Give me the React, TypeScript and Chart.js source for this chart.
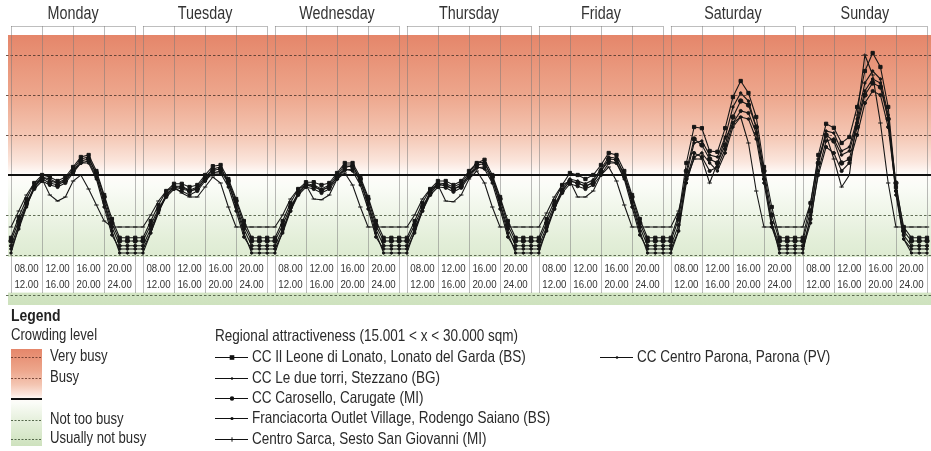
import React, { useEffect, useRef } from "react";
import { Chart, registerables } from "chart.js";

Chart.register(...registerables);

// ---- categories / labels ----
const days = ["Monday", "Tuesday", "Wednesday", "Thursday", "Friday", "Saturday", "Sunday"];
const slotStart = ["08.00", "12.00", "16.00", "20.00"];
const slotEnd = ["12.00", "16.00", "20.00", "24.00"];
const hours = [8, 9, 10, 11, 12, 13, 14, 15, 16, 17, 18, 19, 20, 21, 22, 23, 24];
// crowding-level reference lines (index units)
const levelLines = [0, 1, 2, 4, 5, 6];
const thresholdLevel = 3;

const crowdLegend = ["Very busy", "Busy", "Not too busy", "Usually not busy"];
const legendTitle = "Regional attractiveness (15.001 < x < 30.000 sqm)";

// ---- series (rows = Monday..Sunday, columns = hours 8..24) ----
const leone = [
  [1.43, 1.95, 2.4, 2.8, 3.0, 2.95, 2.85, 2.95, 3.2, 3.45, 3.5, 3.1, 2.5, 1.9, 1.43, 1.43, 1.43],
  [1.43, 1.85, 2.25, 2.6, 2.78, 2.78, 2.7, 2.75, 3.0, 3.22, 3.25, 2.9, 2.4, 1.85, 1.43, 1.43, 1.43],
  [1.43, 1.85, 2.3, 2.65, 2.82, 2.82, 2.75, 2.8, 3.05, 3.3, 3.3, 2.95, 2.45, 1.85, 1.43, 1.43, 1.43],
  [1.43, 1.85, 2.3, 2.65, 2.85, 2.85, 2.75, 2.85, 3.1, 3.3, 3.38, 3.0, 2.45, 1.85, 1.43, 1.43, 1.43],
  [1.43, 1.9, 2.35, 2.75, 3.05, 3.0, 2.9, 3.0, 3.25, 3.55, 3.5, 3.1, 2.5, 1.9, 1.43, 1.43, 1.43],
  [1.43, 2.0, 3.3, 4.2, 4.17, 3.6, 3.58, 4.17, 4.95, 5.35, 5.05, 4.45, 3.2, 2.2, 1.43, 1.43, 1.43],
  [1.43, 2.3, 3.5, 4.28, 4.18, 3.8, 3.95, 4.7, 5.6, 6.05, 5.7, 4.7, 2.7, 1.7, 1.43, 1.43, 1.43],
];
const torri = [
  [1.05, 1.7, 2.25, 2.7, 2.95, 2.9, 2.8, 2.9, 3.15, 3.4, 3.45, 3.0, 2.3, 1.6, 1.05, 1.05, 1.05],
  [1.05, 1.55, 2.1, 2.5, 2.72, 2.72, 2.62, 2.7, 2.95, 3.15, 3.2, 2.8, 2.2, 1.55, 1.05, 1.05, 1.05],
  [1.05, 1.6, 2.15, 2.55, 2.78, 2.75, 2.65, 2.75, 3.0, 3.25, 3.25, 2.85, 2.25, 1.55, 1.05, 1.05, 1.05],
  [1.05, 1.6, 2.15, 2.6, 2.8, 2.78, 2.7, 2.8, 3.05, 3.3, 3.32, 2.9, 2.25, 1.55, 1.05, 1.05, 1.05],
  [1.05, 1.65, 2.2, 2.65, 2.9, 2.85, 2.78, 2.88, 3.15, 3.45, 3.42, 3.0, 2.3, 1.6, 1.05, 1.05, 1.05],
  [1.05, 1.6, 3.0, 3.8, 3.85, 3.5, 3.45, 3.95, 4.7, 5.05, 4.85, 4.2, 3.0, 1.8, 1.05, 1.05, 1.05],
  [1.05, 2.0, 3.3, 4.1, 4.05, 3.6, 3.7, 4.4, 5.3, 5.6, 5.4, 4.5, 2.6, 1.4, 1.05, 1.05, 1.05],
];
const carosello = [
  [1.35, 1.85, 2.3, 2.7, 2.9, 2.8, 2.75, 2.85, 3.1, 3.35, 3.4, 3.05, 2.45, 1.8, 1.35, 1.35, 1.35],
  [1.35, 1.75, 2.15, 2.5, 2.7, 2.7, 2.6, 2.65, 2.9, 3.12, 3.15, 2.85, 2.35, 1.75, 1.35, 1.35, 1.35],
  [1.35, 1.75, 2.2, 2.55, 2.75, 2.72, 2.62, 2.7, 2.95, 3.2, 3.22, 2.9, 2.4, 1.75, 1.35, 1.35, 1.35],
  [1.35, 1.75, 2.2, 2.55, 2.75, 2.75, 2.65, 2.72, 3.0, 3.25, 3.28, 2.95, 2.4, 1.75, 1.35, 1.35, 1.35],
  [1.35, 1.8, 2.25, 2.6, 2.85, 2.8, 2.72, 2.8, 3.1, 3.4, 3.38, 3.0, 2.45, 1.8, 1.35, 1.35, 1.35],
  [1.35, 1.9, 3.1, 3.9, 3.75, 3.4, 3.3, 3.75, 4.45, 4.85, 4.75, 4.2, 3.1, 2.0, 1.35, 1.35, 1.35],
  [1.35, 2.1, 3.3, 4.0, 3.85, 3.3, 3.4, 4.2, 5.0, 5.3, 5.2, 4.4, 2.8, 1.6, 1.35, 1.35, 1.35],
];
const franciacorta = [
  [1.23, 1.75, 2.25, 2.65, 2.85, 2.75, 2.7, 2.8, 3.05, 3.3, 3.35, 2.95, 2.35, 1.7, 1.23, 1.23, 1.23],
  [1.23, 1.65, 2.1, 2.45, 2.65, 2.6, 2.5, 2.6, 2.85, 3.05, 3.1, 2.8, 2.25, 1.65, 1.23, 1.23, 1.23],
  [1.23, 1.65, 2.1, 2.5, 2.7, 2.65, 2.55, 2.65, 2.9, 3.12, 3.15, 2.85, 2.3, 1.65, 1.23, 1.23, 1.23],
  [1.23, 1.65, 2.1, 2.5, 2.7, 2.68, 2.58, 2.68, 2.95, 3.18, 3.2, 2.9, 2.3, 1.65, 1.23, 1.23, 1.23],
  [1.23, 1.7, 2.15, 2.55, 2.78, 2.72, 2.65, 2.75, 3.0, 3.3, 3.3, 2.95, 2.35, 1.7, 1.23, 1.23, 1.23],
  [1.23, 1.75, 2.9, 3.55, 3.45, 3.1, 3.2, 3.65, 4.3, 4.6, 4.55, 4.05, 2.9, 1.8, 1.23, 1.23, 1.23],
  [1.23, 1.9, 3.0, 3.7, 3.55, 3.1, 3.3, 4.0, 4.8, 5.1, 5.0, 4.2, 2.6, 1.5, 1.23, 1.23, 1.23],
];
const sarca = [
  [1.7, 2.1, 2.5, 2.8, 2.9, 2.5, 2.35, 2.45, 2.85, 3.0, 2.65, 2.25, 1.85, 1.7, 1.7, 1.7, 1.7],
  [1.7, 2.0, 2.35, 2.6, 2.7, 2.55, 2.45, 2.45, 2.7, 2.95, 2.8, 2.2, 1.7, 1.7, 1.7, 1.7, 1.7],
  [1.7, 2.0, 2.4, 2.65, 2.75, 2.4, 2.38, 2.5, 2.9, 3.05, 2.75, 2.2, 1.7, 1.7, 1.7, 1.7, 1.7],
  [1.7, 2.0, 2.4, 2.65, 2.75, 2.35, 2.33, 2.5, 2.9, 3.1, 2.8, 2.2, 1.7, 1.7, 1.7, 1.7, 1.7],
  [1.7, 2.05, 2.45, 2.75, 2.85, 2.45, 2.45, 2.6, 3.0, 3.2, 2.85, 2.25, 1.7, 1.7, 1.7, 1.7, 1.7],
  [1.7, 2.1, 2.9, 3.4, 3.4, 2.8, 3.3, 3.9, 4.3, 4.45, 3.8, 2.6, 1.7, 1.7, 1.7, 1.7, 1.7],
  [1.7, 2.3, 3.4, 4.0, 3.4, 2.7, 3.0, 4.5, 6.0, 5.5, 4.3, 2.8, 1.7, 1.7, 1.7, 1.7, 1.7],
];
const parona = [
  [1.15, 1.65, 2.2, 2.7, 2.95, 2.85, 2.8, 2.85, 3.1, 3.3, 3.3, 2.9, 2.2, 1.5, 1.15, 1.15, 1.15],
  [1.15, 1.55, 2.05, 2.5, 2.7, 2.65, 2.6, 2.65, 2.9, 3.05, 3.05, 2.7, 2.1, 1.45, 1.15, 1.15, 1.15],
  [1.15, 1.55, 2.1, 2.55, 2.75, 2.7, 2.62, 2.7, 2.95, 3.15, 3.1, 2.75, 2.15, 1.45, 1.15, 1.15, 1.15],
  [1.15, 1.55, 2.1, 2.55, 2.78, 2.72, 2.65, 2.75, 3.0, 3.2, 3.15, 2.8, 2.15, 1.45, 1.15, 1.15, 1.15],
  [1.15, 1.6, 2.15, 2.6, 2.85, 2.8, 2.72, 2.82, 3.1, 3.35, 3.3, 2.9, 2.2, 1.5, 1.15, 1.15, 1.15],
  [1.15, 1.6, 2.8, 3.45, 3.55, 3.3, 3.1, 3.55, 4.2, 4.45, 4.4, 3.9, 2.8, 1.7, 1.15, 1.15, 1.15],
  [1.15, 1.8, 3.1, 3.85, 3.9, 3.5, 3.6, 4.3, 5.1, 5.4, 5.3, 4.4, 2.5, 1.4, 1.15, 1.15, 1.15],
];

const seriesNames = [
  "CC Il Leone di Lonato, Lonato del Garda (BS)",
  "CC Le due torri, Stezzano (BG)",
  "CC Carosello, Carugate (MI)",
  "Franciacorta Outlet Village, Rodengo Saiano (BS)",
  "Centro Sarca, Sesto San Giovanni (MI)",
  "CC Centro Parona, Parona (PV)",
];
const seriesValues = [leone, torri, carosello, franciacorta, sarca, parona];
const seriesMarkers = [
  { style: "rect", r: 2.3 },
  { style: "circle", r: 1.2 },
  { style: "circle", r: 2.2 },
  { style: "circle", r: 1.6 },
  { style: "line", r: 2.2 },
  { style: "circle", r: 1.3 },
];

const DAY_SPAN = 17; // 16 opening hours + 1 unit gap
const FONT = '"Liberation Sans", Arial, sans-serif';
const NARROW = 0.82;

function toPoints(rows: number[][]) {
  const pts: { x: number; y: number }[] = [];
  rows.forEach((row, d) => {
    row.forEach((v, i) => pts.push({ x: d * DAY_SPAN + (hours[i] - 8), y: v }));
  });
  return pts;
}

function nText(ctx: CanvasRenderingContext2D, text: string, x: number, y: number, size: number, align: string, bold = false, color = "#2a2a2a") {
  ctx.save();
  ctx.font = `${bold ? "bold " : ""}${size}px ${FONT}`;
  ctx.textBaseline = "middle";
  ctx.textAlign = "left";
  ctx.fillStyle = color;
  const w = ctx.measureText(text).width * NARROW;
  const sx = align === "center" ? x - w / 2 : x;
  ctx.translate(sx, y);
  ctx.scale(NARROW, 1);
  ctx.fillText(text, 0, 0);
  ctx.restore();
}

function addStops(g: CanvasGradient) {
  g.addColorStop(0, "rgb(229,134,106)");
  g.addColorStop(0.22, "rgb(237,166,140)");
  g.addColorStop(0.37, "rgb(244,198,179)");
  g.addColorStop(0.47, "rgb(251,230,221)");
  g.addColorStop(0.515, "rgb(255,252,250)");
  g.addColorStop(0.56, "rgb(250,252,247)");
  g.addColorStop(0.75, "rgb(228,239,218)");
  g.addColorStop(1, "rgb(206,226,190)");
}

function drawMarker(ctx: CanvasRenderingContext2D, style: string, r: number, x: number, y: number) {
  ctx.save();
  ctx.fillStyle = "#111";
  ctx.strokeStyle = "#111";
  ctx.lineWidth = 1;
  if (style === "rect") {
    ctx.fillRect(x - r, y - r, 2 * r, 2 * r);
  } else if (style === "line") {
    ctx.beginPath();
    ctx.moveTo(x, y - r);
    ctx.lineTo(x, y + r);
    ctx.stroke();
  } else {
    ctx.beginPath();
    ctx.arc(x, y, r, 0, Math.PI * 2);
    ctx.fill();
  }
  ctx.restore();
}

const decorPlugin = {
  id: "decor",
  beforeDraw(chart: any) {
    const { ctx, chartArea: ca, scales } = chart;
    const xs = scales.x;
    const ys = scales.y;
    ctx.save();
    // crowding gradient
    const g = ctx.createLinearGradient(0, ca.top, 0, ca.bottom);
    addStops(g);
    ctx.fillStyle = g;
    ctx.fillRect(ca.left, ca.top, ca.right - ca.left, ca.bottom - ca.top);
    // white label band
    const bt = ys.getPixelForValue(0.95);
    const bb = ys.getPixelForValue(0.06);
    ctx.fillStyle = "#ffffff";
    ctx.fillRect(ca.left, bt, ca.right - ca.left, bb - bt);
    // dashed level lines
    ctx.setLineDash([2.5, 2]);
    ctx.lineWidth = 1;
    levelLines.forEach((v) => {
      const py = Math.round(ys.getPixelForValue(v)) + 0.5;
      ctx.strokeStyle = v >= 4 ? "rgba(80,55,45,0.85)" : "rgba(70,85,60,0.85)";
      ctx.beginPath();
      ctx.moveTo(ca.left - 2, py);
      ctx.lineTo(ca.right, py);
      ctx.stroke();
    });
    ctx.setLineDash([]);
    // day boxes / slot separators
    const topY = 26;
    const botY = ys.getPixelForValue(0.05);
    days.forEach((day, d) => {
      const x0 = xs.getPixelForValue(d * DAY_SPAN);
      const x1 = xs.getPixelForValue(d * DAY_SPAN + 16);
      ctx.strokeStyle = "rgba(190,190,190,1)";
      ctx.beginPath();
      ctx.moveTo(x0, topY + 0.5);
      ctx.lineTo(x1, topY + 0.5);
      ctx.stroke();
      for (let k = 0; k <= 4; k++) {
        const px = Math.round(xs.getPixelForValue(d * DAY_SPAN + k * 4)) + 0.5;
        ctx.strokeStyle = "rgba(120,120,120,0.5)";
        ctx.beginPath();
        ctx.moveTo(px, topY);
        ctx.lineTo(px, botY);
        ctx.stroke();
      }
      nText(ctx, day, (x0 + x1) / 2, 14, 17.5, "center", false, "#333");
      for (let k = 0; k < 4; k++) {
        const cx = xs.getPixelForValue(d * DAY_SPAN + k * 4 + 2);
        nText(ctx, slotStart[k], cx, 269, 11.8, "center", false, "#333");
        nText(ctx, slotEnd[k], cx, 285, 11.8, "center", false, "#333");
      }
    });
    ctx.restore();
  },
  beforeDatasetsDraw(chart: any) {
    const { ctx, chartArea: ca, scales } = chart;
    const py = scales.y.getPixelForValue(thresholdLevel);
    ctx.save();
    ctx.strokeStyle = "#111";
    ctx.lineWidth = 2;
    ctx.beginPath();
    ctx.moveTo(ca.left, py);
    ctx.lineTo(ca.right, py);
    ctx.stroke();
    ctx.restore();
  },
  afterDraw(chart: any) {
    const { ctx } = chart;
    ctx.save();
    // left legend
    nText(ctx, "Legend", 11, 316, 17, "left", true, "#222");
    nText(ctx, "Crowding level", 11, 336, 16, "left", false, "#2a2a2a");
    const sx = 11, sw = 31, st = 349, sb = 446;
    const g = ctx.createLinearGradient(0, st, 0, sb);
    addStops(g);
    ctx.fillStyle = g;
    ctx.fillRect(sx, st, sw, sb - st);
    const rowsY = [357, 378, 420, 439];
    ctx.setLineDash([2, 1.5]);
    ctx.lineWidth = 1;
    rowsY.forEach((yy, i) => {
      ctx.strokeStyle = i < 2 ? "rgba(110,60,45,0.9)" : "rgba(70,90,60,0.9)";
      ctx.beginPath();
      ctx.moveTo(sx, yy + 0.5);
      ctx.lineTo(sx + sw, yy + 0.5);
      ctx.stroke();
      nText(ctx, crowdLegend[i], 50, yy, 16, "left");
    });
    ctx.setLineDash([]);
    ctx.strokeStyle = "#111";
    ctx.lineWidth = 2;
    ctx.beginPath();
    ctx.moveTo(sx, 399);
    ctx.lineTo(sx + sw, 399);
    ctx.stroke();
    // series legend
    nText(ctx, legendTitle, 215, 336, 16.5, "left");
    const pos = [
      [215, 357], [215, 378], [215, 398], [215, 418], [215, 439], [600, 357],
    ];
    seriesNames.forEach((name, i) => {
      const [lx, ly] = pos[i];
      ctx.strokeStyle = "#111";
      ctx.lineWidth = 1.2;
      ctx.beginPath();
      ctx.moveTo(lx, ly + 0.5);
      ctx.lineTo(lx + 33, ly + 0.5);
      ctx.stroke();
      drawMarker(ctx, seriesMarkers[i].style, seriesMarkers[i].r, lx + 17, ly + 0.5);
      nText(ctx, name, lx + 37, ly, 16.5, "left");
    });
    ctx.restore();
  },
};

export default function App() {
  const ref = useRef<HTMLCanvasElement>(null);
  useEffect(() => {
    document.body.style.margin = "0";
    const canvas = ref.current!;
    const datasets = seriesValues.map((rows, i) => ({
      label: seriesNames[i],
      data: toPoints(rows),
      borderColor: "#161616",
      backgroundColor: "#161616",
      borderWidth: 1.1,
      pointStyle: seriesMarkers[i].style as any,
      pointRadius: seriesMarkers[i].r,
      pointBorderWidth: 1,
      pointBorderColor: "#161616",
      pointBackgroundColor: "#161616",
      tension: 0,
      fill: false,
    }));
    const pxPerUnit = (927 - 11) / 118;
    const chart = new Chart(canvas, {
      type: "line",
      data: { datasets },
      options: {
        animation: false,
        responsive: false,
        devicePixelRatio: 1,
        layout: { autoPadding: false, padding: { left: 8, right: 0, top: 35, bottom: 146 } },
        plugins: { legend: { display: false }, tooltip: { enabled: false } },
        scales: {
          x: { type: "linear", display: false, min: -3 / pxPerUnit, max: 118 + 4 / pxPerUnit },
          y: { type: "linear", display: false, min: -0.25, max: 6.5 },
        },
      },
      plugins: [decorPlugin],
    });
    return () => chart.destroy();
  }, []);
  return (
    <div style={{ width: 931, height: 451, background: "#fff" }}>
      <canvas ref={ref} width={931} height={451} style={{ display: "block" }} />
    </div>
  );
}
